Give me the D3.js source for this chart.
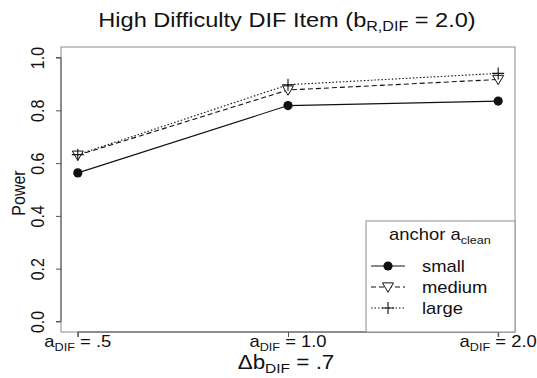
<!DOCTYPE html>
<html>
<head>
<meta charset="utf-8">
<script src="https://cdn.jsdelivr.net/npm/d3@7"></script>
<style>
  body { margin: 0; background: #fff; }
  svg { display: block; font-family: "Liberation Sans", Arial, sans-serif; }
</style>
</head>
<body>
<div id="chart"></div>
<script>
// categories on the x axis (a_DIF levels)
const aLevels = [".5", "1.0", "2.0"];
const yTicks = [0, 0.2, 0.4, 0.6, 0.8, 1.0];

// power per anchor condition
const small  = [0.563, 0.818, 0.835];
const medium = [0.630, 0.877, 0.917];
const large  = [0.632, 0.897, 0.940];

const seriesNames = ["small", "medium", "large"];
const seriesValues = [small, medium, large];

const width = 537, height = 378;
const boxLeft = 61, boxRight = 515, boxTop = 47, boxBottom = 332;
const stretch = 1.15; // the glyphs in the original are a bit wider than Arial

const svg = d3.select("#chart").append("svg")
    .attr("width", width)
    .attr("height", height);

// R-style 4% padding on both scales
const x = d3.scaleLinear().domain([0.92, 3.08]).range([boxLeft, boxRight]);
const y = d3.scaleLinear().domain([-0.04, 1.04]).range([boxBottom, boxTop]);

const ink = "#111";

// text placed at (cx, cy) and widened horizontally
function wideText(parent, cx, cy, size, anchor) {
  return parent.append("text")
      .attr("transform", `translate(${cx},${cy}) scale(${stretch},1)`)
      .attr("text-anchor", anchor || "middle")
      .attr("font-size", size).attr("fill", ink);
}

// plot box
svg.append("rect")
    .attr("x", boxLeft).attr("y", boxTop)
    .attr("width", boxRight - boxLeft).attr("height", boxBottom - boxTop)
    .attr("fill", "none").attr("stroke", "#8c8c8c").attr("stroke-width", 1);

// y axis
const yAxis = svg.append("g")
    .attr("transform", `translate(${boxLeft},0)`)
    .call(d3.axisLeft(y).tickValues(yTicks).tickFormat(d3.format(".1f")).tickSize(5));
yAxis.select(".domain").attr("stroke", "#555").attr("d", `M-5,${y(0)}H0V${y(1)}H-5`);
yAxis.selectAll(".tick line").attr("stroke", "#555");
yAxis.selectAll(".tick text")
    .attr("font-size", 16).attr("fill", ink)
    .attr("transform", `translate(-17,0) scale(${stretch},1) rotate(-90)`)
    .attr("x", 0).attr("y", 0)
    .attr("dy", "0")
    .attr("text-anchor", "middle");

// x axis
const xAxis = svg.append("g")
    .attr("transform", `translate(0,${boxBottom})`)
    .call(d3.axisBottom(x).tickValues([1, 2, 3]).tickFormat("").tickSize(5));
xAxis.select(".domain").attr("stroke", "#555").attr("d", `M${x(1)},5V0H${x(3)}V5`);
xAxis.selectAll(".tick line").attr("stroke", "#555");

aLevels.forEach((lab, i) => {
  const t = wideText(svg, x(i + 1), 347, 16);
  t.append("tspan").text("a");
  t.append("tspan").attr("font-size", 11).attr("dy", 4).text("DIF");
  t.append("tspan").attr("dy", -4).text(" = " + lab);
});

// x axis title
const xt = wideText(svg, (boxLeft + boxRight) / 2 - 2, 369, 19.5);
xt.append("tspan").text("\u0394b");
xt.append("tspan").attr("font-size", 13.5).attr("dy", 4).text("DIF");
xt.append("tspan").attr("dy", -4).text(" = .7");

// y axis title
svg.append("text")
    .attr("transform", `translate(25,193) scale(${stretch},1) rotate(-90)`)
    .attr("text-anchor", "middle").attr("font-size", 16).attr("fill", ink)
    .text("Power");

// title
const tt = wideText(svg, (boxLeft + boxRight) / 2 - 1, 27, 20.5);
tt.append("tspan").text("High Difficulty DIF Item (b");
tt.append("tspan").attr("font-size", 14).attr("dy", 4).text("R,DIF");
tt.append("tspan").attr("dy", -4).text(" = 2.0)");

// line styles per series
const dashes = [null, "5,3", "1.5,2"];
const line = d3.line().x((d, i) => x(i + 1)).y(d => y(d));

const triPath = s => `M${-s},${-s * 0.75}H${s}L0,${s * 0.95}Z`;
const plusPath = s => `M${-s},0H${s}M0,${-s}V${s}`;

function drawSymbol(g, k, cx, cy) {
  if (k === 0) {
    g.append("circle").attr("cx", cx).attr("cy", cy).attr("r", 4.6).attr("fill", ink);
  } else if (k === 1) {
    g.append("path").attr("transform", `translate(${cx},${cy})`).attr("d", triPath(5.5))
        .attr("fill", "#fff").attr("stroke", ink).attr("stroke-width", 1);
  } else {
    g.append("path").attr("transform", `translate(${cx},${cy})`).attr("d", plusPath(6))
        .attr("fill", "none").attr("stroke", ink).attr("stroke-width", 1.1);
  }
}

const marks = svg.append("g");
seriesValues.forEach((vals, k) => {
  marks.append("path")
      .attr("d", line(vals))
      .attr("fill", "none").attr("stroke", ink).attr("stroke-width", 1.1)
      .attr("stroke-dasharray", dashes[k]);
});
seriesValues.forEach((vals, k) => {
  vals.forEach((v, i) => drawSymbol(marks, k, x(i + 1), y(v)));
});

// legend
const lg = svg.append("g");
lg.append("rect")
    .attr("x", 366).attr("y", 221).attr("width", boxRight - 366).attr("height", boxBottom - 221)
    .attr("fill", "#fff").attr("stroke", "#8c8c8c");
const lt = wideText(lg, 440, 240, 16);
lt.append("tspan").text("anchor a");
lt.append("tspan").attr("font-size", 11).attr("dy", 4).text("clean");

seriesNames.forEach((name, k) => {
  const cy = 266 + k * 21;
  lg.append("line")
      .attr("x1", 371).attr("x2", 405).attr("y1", cy).attr("y2", cy)
      .attr("stroke", ink).attr("stroke-width", 1.1)
      .attr("stroke-dasharray", dashes[k]);
  drawSymbol(lg, k, 388, cy);
  wideText(lg, 422, cy + 6, 16, "start").text(name);
});
</script>
</body>
</html>
